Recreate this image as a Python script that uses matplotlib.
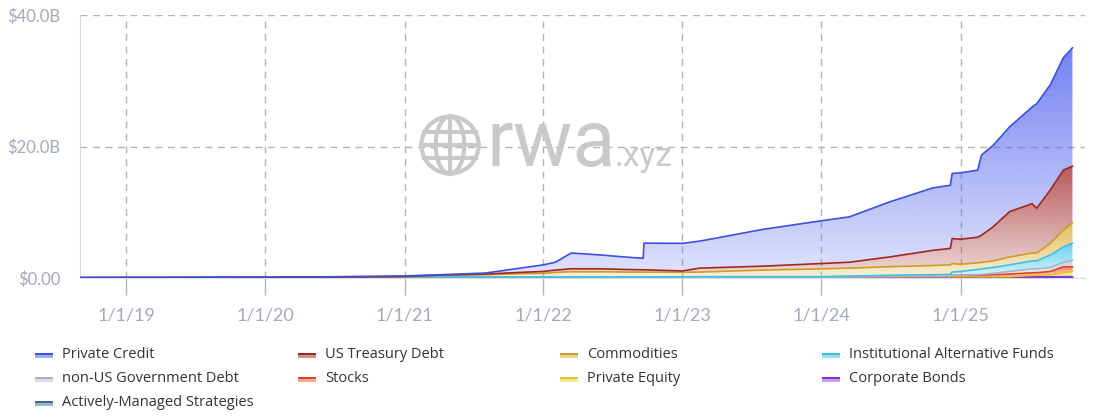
import numpy as np
import matplotlib
matplotlib.use("Agg")
import matplotlib.pyplot as plt
import matplotlib.dates as mdates
from matplotlib.colors import to_rgb
from matplotlib.patches import PathPatch, Rectangle, Circle, Ellipse
from datetime import datetime

# ── Data (billions USD, per-layer values) ─────────────────────────────────────
dates = [
    "2018-09-01", "2019-06-01", "2020-06-01", "2021-01-01", "2021-04-01",
    "2021-08-01", "2021-11-01", "2022-01-01", "2022-02-01", "2022-03-15",
    "2022-06-01", "2022-08-01", "2022-09-20", "2022-09-22", "2023-01-01",
    "2023-02-15", "2023-08-01", "2024-01-01", "2024-03-15", "2024-07-01",
    "2024-10-20", "2024-12-05", "2024-12-10", "2025-01-01", "2025-02-15",
    "2025-02-25", "2025-03-28", "2025-05-10", "2025-07-08", "2025-07-20",
    "2025-08-25", "2025-09-28", "2025-10-22",
]

actively_managed = [0.02, 0.03, 0.04, 0.05, 0.05, 0.05, 0.05, 0.05, 0.05, 0.05,
                    0.05, 0.05, 0.05, 0.05, 0.05, 0.05, 0.05, 0.05, 0.02, 0.02,
                    0.02, 0.02, 0.02, 0.02, 0.02, 0.02, 0.02, 0.02, 0.02, 0.02,
                    0.02, 0.02, 0.02]
corporate_bonds = [0, 0, 0, 0, 0, 0, 0, 0, 0, 0,
                   0, 0, 0, 0, 0, 0, 0, 0, 0.10, 0.15,
                   0.18, 0.18, 0.18, 0.18, 0.18, 0.18, 0.18, 0.18, 0.18, 0.18,
                   0.18, 0.18, 0.18]
private_equity = [0, 0, 0, 0, 0, 0, 0, 0, 0, 0,
                  0, 0, 0, 0, 0, 0, 0, 0, 0, 0,
                  0, 0, 0, 0, 0, 0, 0, 0, 0.20, 0.20,
                  0.30, 0.60, 0.80]
stocks = [0, 0, 0, 0, 0, 0, 0, 0, 0, 0,
          0, 0, 0, 0, 0, 0, 0, 0, 0, 0,
          0, 0, 0.20, 0.20, 0.20, 0.25, 0.30, 0.40, 0.40, 0.40,
          0.50, 0.90, 0.70]
non_us_gov_debt = [0.01, 0.01, 0.01, 0.01, 0.02, 0.02, 0.02, 0.02, 0.02, 0.02,
                   0.02, 0.02, 0.02, 0.02, 0.02, 0.03, 0.03, 0.03, 0.03, 0.05,
                   0.05, 0.05, 0.05, 0.05, 0.10, 0.10, 0.20, 0.40, 0.60, 0.60,
                   0.60, 0.70, 1.00]
inst_alt_funds = [0.03, 0.04, 0.05, 0.06, 0.07, 0.08, 0.08, 0.08, 0.08, 0.08,
                  0.08, 0.08, 0.08, 0.08, 0.10, 0.12, 0.12, 0.12, 0.15, 0.20,
                  0.25, 0.30, 0.45, 0.55, 0.80, 0.85, 0.90, 1.00, 1.20, 1.20,
                  1.90, 2.30, 2.60]
commodities = [0, 0, 0, 0.05, 0.25, 0.35, 0.50, 0.55, 0.70, 0.80,
               0.80, 0.75, 0.75, 0.75, 0.70, 0.70, 1.00, 1.20, 1.20, 1.30,
               1.40, 1.45, 1.30, 1.10, 1.00, 1.00, 1.00, 1.20, 1.20, 1.20,
               1.80, 2.60, 3.10]
us_treasury = [0, 0, 0.02, 0.05, 0.05, 0.10, 0.20, 0.30, 0.35, 0.45,
               0.45, 0.40, 0.35, 0.35, 0.20, 0.60, 0.60, 0.80, 0.90, 1.50,
               2.30, 2.50, 3.80, 3.80, 3.90, 4.10, 5.20, 6.90, 7.50, 6.80,
               8.10, 9.10, 8.60]
private_credit = [0.02, 0.03, 0.06, 0.10, 0.05, 0.15, 0.65, 1.00, 1.20, 2.40,
                  2.10, 1.90, 1.75, 4.05, 4.20, 4.10, 5.60, 6.50, 6.90, 8.40,
                  9.50, 9.60, 9.90, 10.10, 10.20, 12.20, 12.40, 12.90, 14.70, 15.90,
                  16.00, 17.10, 18.00]

# stack order bottom -> top
series = [
    ("Actively-Managed Strategies", actively_managed, "#4a78a8", "#3d6a9a"),
    ("Corporate Bonds", corporate_bonds, "#9a50ea", "#8a2fe0"),
    ("Private Equity", private_equity, "#f8d430", "#f0c020"),
    ("Stocks", stocks, "#f46040", "#e8401c"),
    ("non-US Government Debt", non_us_gov_debt, "#b8c2d8", "#a8b4cc"),
    ("Institutional Alternative Funds", inst_alt_funds, "#48c8ea", "#3cc0e4"),
    ("Commodities", commodities, "#dcae3c", "#cf9c22"),
    ("US Treasury Debt", us_treasury, "#a83636", "#a02626"),
    ("Private Credit", private_credit, "#5466f0", "#3c50e2"),
]

legend_order = ["Private Credit", "US Treasury Debt", "Commodities",
                "Institutional Alternative Funds", "non-US Government Debt",
                "Stocks", "Private Equity", "Corporate Bonds",
                "Actively-Managed Strategies"]

year_ticks = ["2019-01-01", "2020-01-01", "2021-01-01", "2022-01-01",
              "2023-01-01", "2024-01-01", "2025-01-01"]
year_labels = ["1/1/19", "1/1/20", "1/1/21", "1/1/22", "1/1/23", "1/1/24", "1/1/25"]
y_ticks = [0, 20, 40]
y_labels = ["$0.00", "$20.0B", "$40.0B"]

# ── Style ─────────────────────────────────────────────────────────────────────
W, H = 1095, 418
TICK_COLOR = "#a3a8bd"
GRID_COLOR = "#b4b4b4"
WM_COLOR = "#c9c9c9"

fig = plt.figure(figsize=(W / 100, H / 100), dpi=100)
ax = fig.add_axes([80 / W, 1 - 278 / H, (1085 - 80) / W, (278 - 15) / H])

x = mdates.date2num([datetime.strptime(d, "%Y-%m-%d") for d in dates])
vals = np.array([s[1] for s in series], dtype=float)
tops = np.cumsum(vals, axis=0)
bottoms = tops - vals


def gradient_fill(lower, upper, color, ytop, a_bot=0.18, a_top=0.82, z=2):
    poly = ax.fill_between(x, lower, upper, facecolor="none", edgecolor="none")
    path = poly.get_paths()[0]
    patch = PathPatch(path, transform=ax.transData, facecolor="none",
                      edgecolor="none")
    ax.add_patch(patch)
    n = 256
    grad = np.zeros((n, 1, 4))
    grad[:, 0, :3] = to_rgb(color)
    grad[:, 0, 3] = np.linspace(a_bot, a_top, n)
    im = ax.imshow(grad, aspect="auto", origin="lower",
                   extent=[x[0], x[-1], 0, max(ytop, 0.5)], zorder=z,
                   interpolation="bilinear")
    im.set_clip_path(patch)


for i, (name, v, fcol, lcol) in enumerate(series):
    gradient_fill(bottoms[i], tops[i], fcol, tops[i].max(), z=2 + i * 0.01)
for i, (name, v, fcol, lcol) in enumerate(series):
    ax.plot(x, tops[i], color=lcol, lw=1.2, zorder=3 + i * 0.01)

ax.set_xlim(mdates.date2num(datetime(2018, 9, 1)),
            mdates.date2num(datetime(2025, 11, 24)))
ax.set_ylim(0, 40)

tick_nums = mdates.date2num([datetime.strptime(d, "%Y-%m-%d") for d in year_ticks])
ax.set_xticks(tick_nums)
ax.set_xticklabels(year_labels, fontsize=13, color=TICK_COLOR, family="Lato")
ax.set_yticks(y_ticks)
ax.set_yticklabels(y_labels, fontsize=12, color=TICK_COLOR, family="Lato")
ax.tick_params(axis="x", length=12, color=GRID_COLOR, width=1, pad=9)
ax.tick_params(axis="y", length=0, pad=14)

ax.grid(True, color=GRID_COLOR, linestyle=(0, (5, 4)), linewidth=1)
ax.set_axisbelow(True)
for sp in ["top", "right"]:
    ax.spines[sp].set_visible(False)
ax.spines["left"].set_color("#d4d8e4")
ax.spines["bottom"].set_color("#d8dce8")

# ── Watermark ─────────────────────────────────────────────────────────────────
fig.text(487 / W, 1 - 166 / H, "rwa", fontsize=57, color=WM_COLOR,
         family="Roboto", ha="left", va="baseline", zorder=1)
fig.text(615 / W, 1 - 166 / H, ".xyz", fontsize=24, color=WM_COLOR,
         family="Roboto", ha="left", va="baseline", zorder=1)

gax = fig.add_axes([(450 - 32) / W, 1 - (145 + 32) / H, 64 / W, 64 / H])
gax.set_xlim(-1.12, 1.12)
gax.set_ylim(-1.12, 1.12)
gax.set_aspect("equal")
gax.axis("off")
glw = 3.0
gax.add_patch(Circle((0, 0), 1, fill=False, ec=WM_COLOR, lw=glw))
gax.add_patch(Ellipse((0, 0), 1.0, 2, fill=False, ec=WM_COLOR, lw=glw))
gax.plot([0, 0], [-1, 1], color=WM_COLOR, lw=glw)
for yy in [-0.45, 0, 0.45]:
    hw = np.sqrt(1 - yy ** 2)
    gax.plot([-hw, hw], [yy, yy], color=WM_COLOR, lw=glw)

# ── Legend ────────────────────────────────────────────────────────────────────
lookup = {s[0]: s for s in series}
col_x = [35, 298, 560, 822]
row_y = [355, 379, 403]
for k, name in enumerate(legend_order):
    c, r = k % 4, k // 4
    _, _, fcol, lcol = lookup[name]
    px, py = col_x[c], row_y[r]
    fig.patches.append(Rectangle((px / W, 1 - (py + 3) / H), 18 / W, 3 / H,
                                 transform=fig.transFigure, color=fcol,
                                 alpha=0.55, lw=0))
    fig.patches.append(Rectangle((px / W, 1 - (py) / H), 18 / W, 2.5 / H,
                                 transform=fig.transFigure, color=lcol, lw=0))
    fig.text((px + 27) / W, 1 - py / H, name, fontsize=10.5, color="#333333",
             family="Open Sans", ha="left", va="center")

fig.savefig("out.png", dpi=100)
